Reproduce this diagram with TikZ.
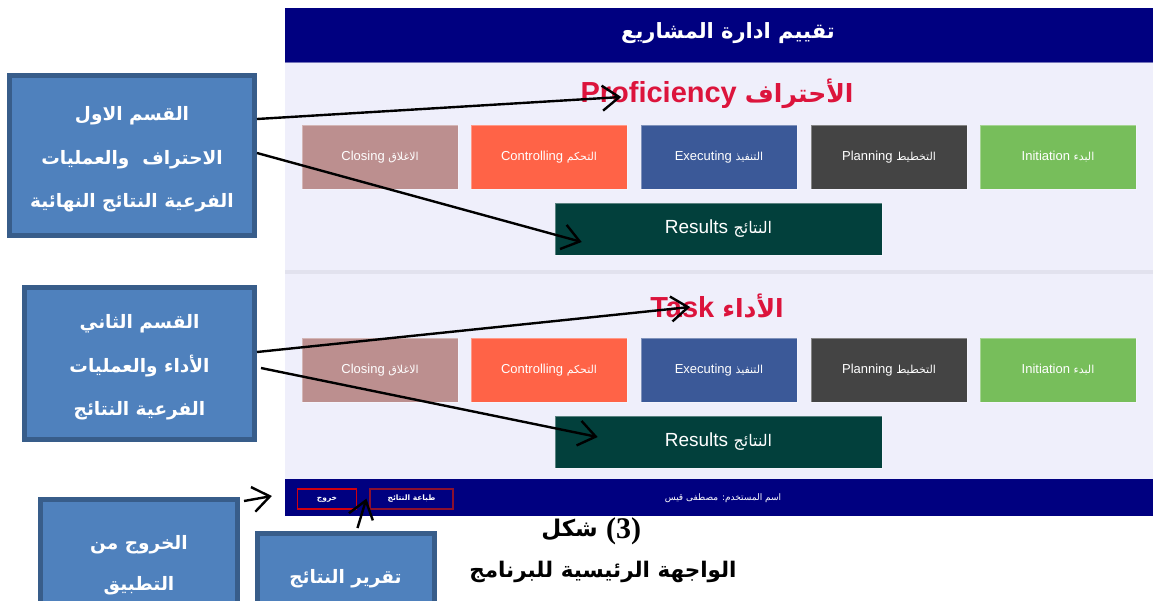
\documentclass[tikz,border=0pt]{standalone}
\usepackage{fontspec}
\setmainfont{Liberation Sans}
\newfontfamily\arfont[Script=Arabic]{DejaVu Sans}
\newfontfamily\capserif{Liberation Serif}
\TeXXeTstate=1
\usetikzlibrary{arrows.meta,calc}
\newcommand\arab[1]{{\arfont\beginR #1\endR}}
\newcommand\calltext[2][0pt]{\raisebox{#1}{\begin{tabular}{@{}c@{}}#2\end{tabular}}}
\definecolor{hdrnavy}{HTML}{000080}
\definecolor{panelbg}{HTML}{EFEFFB}
\definecolor{sepline}{HTML}{E2E2EE}
\definecolor{closingc}{HTML}{BC8F8F}
\definecolor{controlc}{HTML}{FF6347}
\definecolor{execc}{HTML}{3B5998}
\definecolor{planc}{HTML}{444444}
\definecolor{initc}{HTML}{77BE5B}
\definecolor{resc}{HTML}{02403C}
\definecolor{titlered}{HTML}{DC143C}
\definecolor{callfill}{HTML}{4F81BD}
\definecolor{callborder}{HTML}{385D8A}
\definecolor{btnred}{HTML}{D00010}
\definecolor{btndark}{HTML}{8A1030}
\tikzset{
  stagebox/.style={rectangle, fill=#1, draw=white, draw opacity=0.35, line width=0.6pt,
    minimum width=156pt, minimum height=64pt, inner sep=0pt, text=white, font=\fontsize{13}{15}\selectfont},
  resbox/.style={rectangle, fill=resc, draw=white, draw opacity=0.35, line width=0.6pt,
    minimum width=327pt, minimum height=52pt, inner sep=0pt, text=white, font=\fontsize{19}{22}\selectfont},
  sectitle/.style={text=titlered, font=\bfseries\fontsize{29}{32}\selectfont, inner sep=0pt},
  callout/.style={rectangle, fill=callfill, draw=callborder, line width=5pt, inner sep=0pt,
    text=white, font=\bfseries\fontsize{18.5}{43.5}\selectfont},
  btn/.style={rectangle, draw=#1, line width=1.2pt, fill=hdrnavy, inner sep=0pt, minimum height=20pt,
    text=white, font=\bfseries\fontsize{7.5}{8}\selectfont},
  captext/.style={font=\bfseries\fontsize{23}{26}\selectfont, inner sep=0pt},
  arr/.style={draw=black, line width=2.4pt, -{Straight Barb[length=17pt,width=25pt,line width=2.4pt]}},
}
\begin{document}
\begin{tikzpicture}[x=1pt,y=-1pt]
\useasboundingbox (0,0) rectangle (1153,600);
\clip (0,0) rectangle (1153,600);
\fill[white] (0,0) rectangle (1153,600);
% panel
\fill[panelbg] (285,62) rectangle (1153,479);
\fill[hdrnavy] (285,8) rectangle (1153,61.5);
\draw[color=hdrnavy!55!white, line width=1pt] (285,62) -- (1153,62);
\fill[sepline] (285,270) rectangle (1153,274);
\fill[hdrnavy] (285,479) rectangle (1153,516);
\node[text=white, font=\bfseries\fontsize{21}{24}\selectfont, inner sep=0pt] (hdr) at (728,33) {\arab{تقييم ادارة المشاريع}};
% section 1
\node[sectitle] (t1) at (717,94) {Proficiency \arab{\fontsize{25}{28}\selectfont الأحتراف}};
\node[stagebox=closingc] (c1) at (380,157) {Closing \arab{\fontsize{11}{13}\selectfont الاغلاق}};
\node[stagebox=controlc] (k1) at (549,157) {Controlling \arab{\fontsize{11}{13}\selectfont التحكم}};
\node[stagebox=execc] (e1) at (719,157) {Executing \arab{\fontsize{11}{13}\selectfont التنفيذ}};
\node[stagebox=planc] (p1) at (889,157) {Planning \arab{\fontsize{11}{13}\selectfont التخطيط}};
\node[stagebox=initc] (i1) at (1058,157) {Initiation \arab{\fontsize{11}{13}\selectfont البدء}};
\node[resbox] (r1) at (718.5,229) {Results \arab{\fontsize{16}{19}\selectfont النتائج}};
% section 2
\node[sectitle] (t2) at (717,306) {Task \arab{\fontsize{25}{28}\selectfont الأداء}};
\node[stagebox=closingc] (c2) at (380,370) {Closing \arab{\fontsize{11}{13}\selectfont الاغلاق}};
\node[stagebox=controlc] (k2) at (549,370) {Controlling \arab{\fontsize{11}{13}\selectfont التحكم}};
\node[stagebox=execc] (e2) at (719,370) {Executing \arab{\fontsize{11}{13}\selectfont التنفيذ}};
\node[stagebox=planc] (p2) at (889,370) {Planning \arab{\fontsize{11}{13}\selectfont التخطيط}};
\node[stagebox=initc] (i2) at (1058,370) {Initiation \arab{\fontsize{11}{13}\selectfont البدء}};
\node[resbox] (r2) at (718.5,442) {Results \arab{\fontsize{16}{19}\selectfont النتائج}};
% bottom bar
\node[btn=btnred, minimum width=59pt] (exitbtn) at (327,499) {\arab{خروج}};
\node[btn=btndark, minimum width=83pt] (printbtn) at (411.5,499) {\arab{طباعة النتائج}};
\node[text=white, font=\fontsize{9}{11}\selectfont, inner sep=0pt] (user) at (723,498) {\arab{اسم المستخدم: مصطفى قيس}};
% callouts
\node[callout, minimum width=245pt, minimum height=160pt] (cb1) at (132,155.5)
  {\calltext[-5pt]{\arab{القسم الاول}\\ \arab{الاحتراف\ \ والعمليات}\\ \arab{الفرعية النتائج النهائية}}};
\node[callout, minimum width=230pt, minimum height=152pt] (cb2) at (139.5,363.5)
  {\calltext[-6pt]{\arab{القسم الثاني}\\ \arab{الأداء والعمليات}\\ \arab{الفرعية النتائج}}};
\node[callout, minimum width=197pt, minimum height=123pt] (cb3) at (139,561)
  {\calltext[-1pt]{\arab{الخروج من}\\[-2.5pt] \arab{التطبيق}}};
\node[callout, minimum width=177pt, minimum height=82pt] (cb4) at (345.5,574.5)
  {\calltext[2pt]{\arab{تقرير النتائج}}};
% caption
\node[captext, anchor=east] (cap1a) at (598,530) {\arab{شكل}};
\node[captext, anchor=west, font=\capserif\bfseries\fontsize{30}{32}\selectfont] (cap1b) at ($(cap1a.east)+(8,1)$) {(3)};
\node[captext, font=\bfseries\fontsize{21.5}{26}\selectfont] (cap2) at (603,572) {\arab{الواجهة الرئيسية للبرنامج}};
% arrows
\draw[arr] ($(cb1.east)+(0,-36.5)$) -- ($(t1.west)+(41,3)$);
\draw[arr] ($(cb1.east)+(0,-2.5)$) -- ($(r1.west)+(27,13)$);
\draw[arr] ($(cb2.east)+(0,-11.5)$) -- ($(t2.west)+(40,1)$);
\draw[arr] ($(cb2.east)+(4,4.5)$) -- ($(r2.west)+(43,-5)$);
\draw[arr] ($(cb3.north east)+(4,4)$) -- ($(exitbtn.west)+(-25,-3)$);
\draw[arr] ($(cb4.north)+(12,-3)$) -- ($(printbtn.south west)+(-3,-11)$);
\end{tikzpicture}
\end{document}
